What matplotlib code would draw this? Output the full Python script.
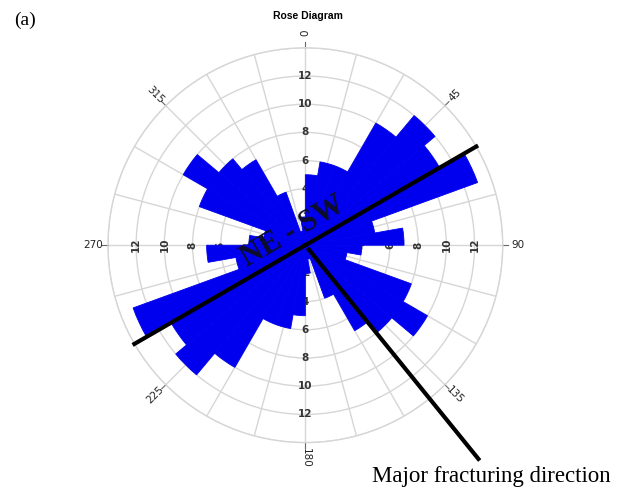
import numpy as np
import matplotlib.pyplot as plt

# fracture azimuth bins (deg, start of 10 deg bin) and counts, plotted bidirectionally
bin_start = [0, 10, 20, 30, 40, 50, 60, 70, 80, 90, 100, 110, 120, 130, 140, 150, 160, 170]
counts = [5, 6, 6, 10, 12, 11, 13, 5, 7, 4, 3, 8, 10, 8, 7, 4, 1, 2]

ring_vals = [2, 4, 6, 8, 10, 12]
label_spokes = [0, 90, 180, 270]
compass = [0, 45, 90, 135, 180, 225, 270, 315]

ne_sw_dir = 60        # NE-SW trend line
major_dir = 141       # "major fracturing direction" pointer

fig = plt.figure(figsize=(6.2, 4.88), dpi=100)
ax = fig.add_axes([0.174, 0.093, 0.637, 0.809], projection='polar')
ax.set_theta_zero_location('N')
ax.set_theta_direction(-1)

for shift in (0, 180):
    ax.bar(np.deg2rad(np.array(bin_start) + shift), counts, width=np.deg2rad(10),
           align='edge', color='#0000ee', edgecolor='#0000ee', lw=0.6, zorder=3)

ax.set_ylim(0, 14)
ax.set_xticks(np.deg2rad(np.arange(0, 360, 15)))
ax.set_xticklabels([])
ax.set_yticks([2, 4, 6, 8, 10, 12, 14])
ax.set_yticklabels([])
ax.grid(color='#d6d6d6', lw=1.0)
ax.spines['polar'].set_color('#d6d6d6')
ax.spines['polar'].set_linewidth(1.0)

# radial labels along the four main spokes
for a in label_spokes:
    rot = 0 if a in (0, 180) else 90
    for v in ring_vals:
        ax.text(np.deg2rad(a), v, str(v), rotation=rot, ha='center', va='center',
                fontsize=7.5, fontweight='bold', color='#333333', zorder=2)

# compass ticks and labels
for a in compass:
    t = np.deg2rad(a)
    ax.plot([t, t], [14, 14.4], color='#666666', lw=0.8, clip_on=False, zorder=2)
    rot = (90 - a) % 180
    if rot > 90:
        rot -= 180
    if a == 180:
        rot = -90
    ax.text(t, 15.05, str(a), rotation=rot, ha='center', va='center',
            fontsize=7.5, color='#222222', clip_on=False)

# trend lines
t1 = np.deg2rad(ne_sw_dir)
ax.plot([t1, t1], [0, 14], color='black', lw=3, zorder=5, clip_on=False)
ax.plot([t1 + np.pi, t1 + np.pi], [0, 14], color='black', lw=3, zorder=5, clip_on=False)
t2 = np.deg2rad(major_dir)
ax.plot([t2, t2], [0.4, 19.5], color='black', lw=3, zorder=5, clip_on=False)

fig.text(0.4726, 0.5246, 'NE - SW', rotation=30, ha='center', va='center',
         fontsize=22, fontweight='bold', family='Liberation Serif', color='#0d0d2a', zorder=6)

fig.text(0.497, 0.968, 'Rose Diagram', ha='center', va='center',
         fontsize=7.5, fontweight='bold', family='Liberation Sans')
fig.text(0.04, 0.958, '(a)', ha='center', va='center', fontsize=14, family='Liberation Serif')
fig.text(0.792, 0.024, 'Major fracturing direction', ha='center', va='center',
         fontsize=16.5, family='Liberation Serif')

fig.savefig('out.png', dpi=100)
